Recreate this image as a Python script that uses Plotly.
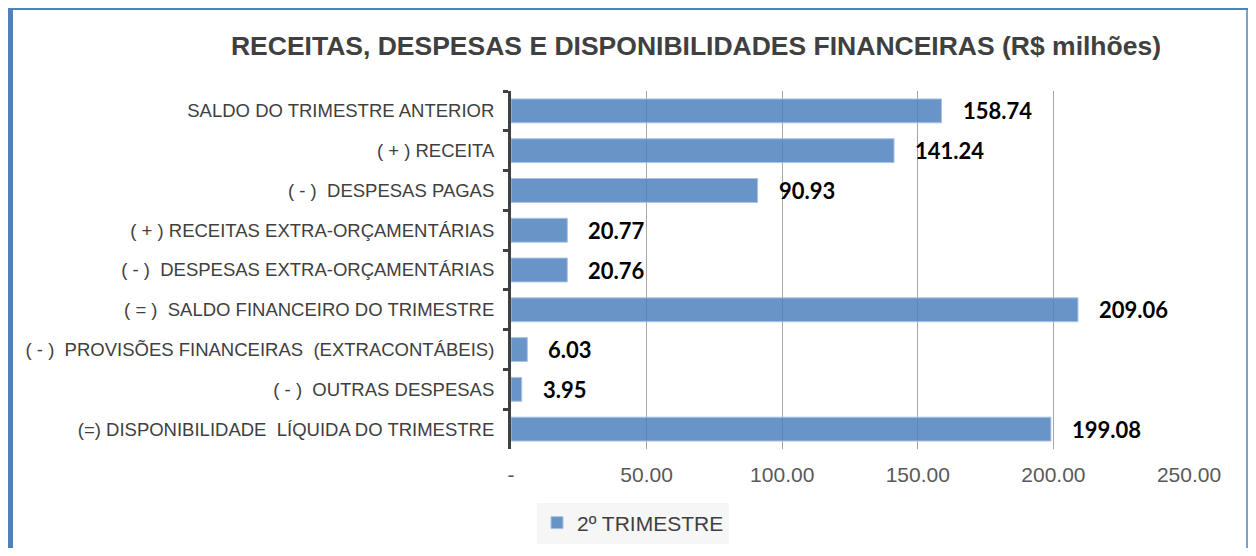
import plotly.graph_objects as go

categories = [
    "SALDO DO TRIMESTRE ANTERIOR",
    "( + ) RECEITA",
    "( - )  DESPESAS PAGAS",
    "( + ) RECEITAS EXTRA-ORÇAMENTÁRIAS",
    "( - )  DESPESAS EXTRA-ORÇAMENTÁRIAS",
    "( = )  SALDO FINANCEIRO DO TRIMESTRE",
    "( - )  PROVISÕES FINANCEIRAS  (EXTRACONTÁBEIS)",
    "( - )  OUTRAS DESPESAS",
    "(=) DISPONIBILIDADE  LÍQUIDA DO TRIMESTRE",
]
values = [158.74, 141.24, 90.93, 20.77, 20.76, 209.06, 6.03, 3.95, 199.08]
series_name = "2º TRIMESTRE"
tick_vals = [0, 50, 100, 150, 200, 250]
tick_text = ["-", "50.00", "100.00", "150.00", "200.00", "250.00"]
title_text = "RECEITAS, DESPESAS E DISPONIBILIDADES FINANCEIRAS (R$ milhões)"

# page body has an 8px default margin; lay out in window pixels minus that offset
OFF = 8
W, H = 1256 - 2 * OFF, 556 - 2 * OFF
PLOT_L, PLOT_R, PLOT_T, PLOT_B = 511, 1189, 91, 449  # window pixels
L = PLOT_L - OFF
R = (OFF + W) - PLOT_R
T = PLOT_T - OFF
B = (OFF + H) - PLOT_B


def px_x(p):
    return (p - PLOT_L) / (PLOT_R - PLOT_L)


def px_y(p):
    return (PLOT_B - p) / (PLOT_B - PLOT_T)


fig = go.Figure()
fig.add_trace(go.Bar(
    x=values, y=categories, orientation="h", name=series_name,
    marker=dict(color="rgba(79,129,189,0.85)", line=dict(color="#a9c4e4", width=1)),
    width=0.6, showlegend=True,
))

for v, c in zip(values, categories):
    fig.add_annotation(x=v, y=c, xref="x", yref="y", text=f"{v:.2f}", showarrow=False,
                       xanchor="left", yanchor="middle", xshift=19, yshift=0,
                       font=dict(family="Lato, Carlito, sans-serif", size=22, color="#000000", weight="bold"))

# outer frame lines
fig.add_shape(type="line", xref="paper", yref="paper", x0=px_x(10), x1=px_x(10), y0=px_y(7), y1=px_y(570),
              line=dict(color="#4f81bd", width=6))
fig.add_shape(type="line", xref="paper", yref="paper", x0=px_x(7), x1=px_x(1248), y0=px_y(8.5), y1=px_y(8.5),
              line=dict(color="#4f81bd", width=3))
fig.add_shape(type="line", xref="paper", yref="paper", x0=px_x(1247), x1=px_x(1247), y0=px_y(8), y1=px_y(570),
              line=dict(color="#4f81bd", width=1.5))

fig.update_layout(
    width=W, height=H,
    margin=dict(l=L, r=R, t=T, b=B, autoexpand=False),
    paper_bgcolor="white", plot_bgcolor="white",
    title=dict(text=title_text, x=(696 - OFF) / W, xref="container", xanchor="center",
               y=1 - (46 - OFF) / H, yref="container", yanchor="middle",
               font=dict(family="Liberation Sans, Arial, sans-serif", size=26.5, color="#404040", weight="bold")),
    bargap=0.4,
    legend=dict(orientation="h", x=px_x(633), xanchor="center", y=px_y(523), yanchor="middle",
                bgcolor="#f6f6f6", font=dict(family="Liberation Sans, Arial, sans-serif", size=21, color="#404040"),
                itemwidth=30),
    font=dict(family="Liberation Sans, Arial, sans-serif"),
)
fig.update_xaxes(range=[0, 250], tickvals=tick_vals, ticktext=tick_text, showgrid=True,
                 gridcolor="#a6a6a6", gridwidth=1, zeroline=False, showline=False, ticks="",
                 tickfont=dict(size=21, color="#595959"), ticklabelstandoff=11, fixedrange=True)
fig.update_yaxes(autorange="reversed", showline=True, linecolor="#404040", linewidth=3,
                 ticks="outside", tickson="boundaries", ticklen=5, tickwidth=3, tickcolor="#404040",
                 tickfont=dict(size=18.5, color="#404040"), ticklabelstandoff=10, showgrid=False)

fig.write_html("out.html")
